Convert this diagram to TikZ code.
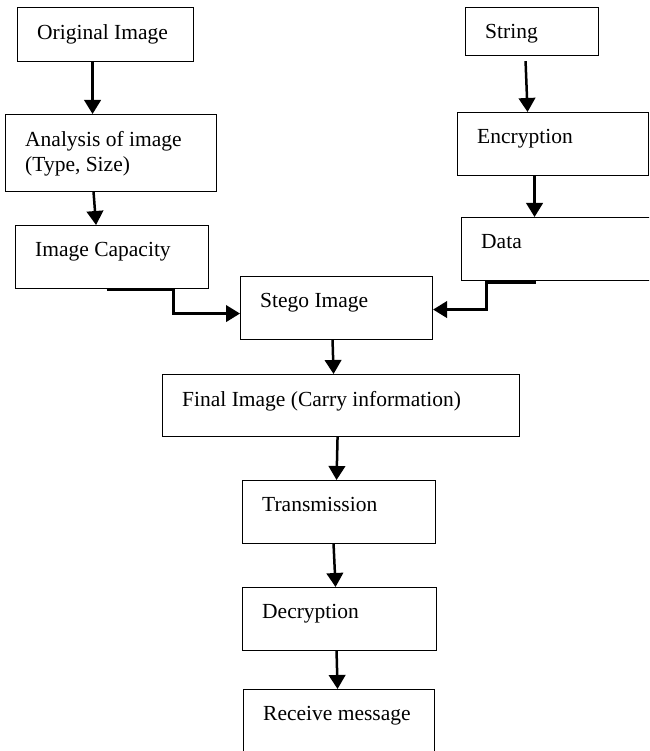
\documentclass[tikz,border=0pt]{standalone}
\usepackage{fontspec}
\setmainfont{Liberation Serif}
\usetikzlibrary{arrows.meta, positioning}

\begin{document}
\begin{tikzpicture}[
    x=1pt, y=-1pt,
    box/.style={draw, line width=1.1pt, anchor=north west, inner sep=0pt},
    lbl/.style={anchor=north west, align=left, inner sep=0pt, xshift=20pt, yshift=-17pt, font=\fontsize{21.5}{25}\selectfont},
    arrow/.style={-{Triangle[length=14pt, width=16.5pt]}, line width=2.5pt}
]
    \clip (0,0) rectangle (649,751);

    % Image side
    \node[box, minimum width=176pt, minimum height=54pt, label={[lbl]north west:Original Image}] (orig) at (17,7) {};
    \node[box, minimum width=211pt, minimum height=77pt, label={[lbl]north west:Analysis of image\\(Type, Size)}] (ana) at (5,114) {};
    \node[box, minimum width=193pt, minimum height=63pt, label={[lbl]north west:Image Capacity}] (cap) at (15,225) {};

    % Message side
    \node[box, minimum width=133pt, minimum height=48pt, label={[lbl]north west:String}] (str) at (465,7) {};
    \node[box, minimum width=191pt, minimum height=63pt, label={[lbl]north west:Encryption}] (enc) at (457,112) {};
    \node[box, minimum width=200pt, minimum height=63pt, label={[lbl]north west:Data}] (data) at (461,217) {};

    % Embedding and receiving chain
    \node[box, minimum width=192pt, minimum height=63pt, label={[lbl]north west:Stego Image}] (stego) at (240,276) {};
    \node[box, minimum width=357pt, minimum height=62pt, label={[lbl]north west:Final Image (Carry information)}] (final) at (162,374) {};
    \node[box, minimum width=193pt, minimum height=63pt, label={[lbl]north west:Transmission}] (trans) at (242,480) {};
    \node[box, minimum width=194pt, minimum height=63pt, label={[lbl]north west:Decryption}] (dec) at (242,587) {};
    \node[box, minimum width=191pt, minimum height=80pt, label={[lbl]north west:Receive message}] (recv) at (243,689) {};

    % Connections
    \draw[arrow] ([xshift=-13pt]orig.south) -- ([xshift=-18.5pt]ana.north);
    \draw[arrow] ([xshift=-17.5pt]ana.south) -- ([xshift=-16pt]cap.north);
    \draw[arrow] ([xshift=-5.5pt, yshift=-1pt]cap.south) -- ([xshift=61.5pt, yshift=-1pt]cap.south) |- ([yshift=-5.5pt]stego.west);
    \draw[arrow] ([xshift=-6.5pt, yshift=-5pt]str.south) -- ([xshift=-25.5pt]enc.north);
    \draw[arrow] ([xshift=-18.5pt]enc.south) -- ([xshift=-27pt]data.north);
    \draw[arrow] ([xshift=-26pt, yshift=-1.5pt]data.south) -- ([xshift=-75pt, yshift=-1.5pt]data.south) |- ([yshift=-1.5pt]stego.east);
    \draw[arrow] ([xshift=-4pt]stego.south) -- ([xshift=-7.5pt]final.north);
    \draw[arrow] ([xshift=-3.5pt]final.south) -- ([xshift=-2.5pt]trans.north);
    \draw[arrow] ([xshift=-5.5pt]trans.south) -- ([xshift=-4pt]dec.north);
    \draw[arrow] ([xshift=-3pt]dec.south) -- ([xshift=-1.5pt]recv.north);
\end{tikzpicture}
\end{document}
